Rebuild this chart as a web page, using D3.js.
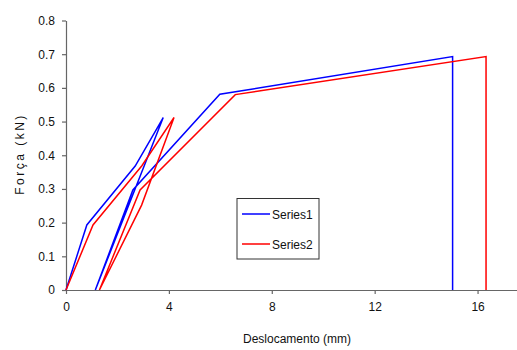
<!DOCTYPE html>
<html>
<head>
<meta charset="utf-8">
<script src="https://cdn.jsdelivr.net/npm/d3@7"></script>
<style>
  body { margin: 0; background: #fff; }
  svg { display: block; font-family: "Liberation Sans", Arial, sans-serif; }
</style>
</head>
<body>
<svg id="chart" width="517" height="350"></svg>
<script>
const width = 517,
  height = 350;

// load/unload/reload path, x in mm, y in kN
const series1X = [0, 0.81, 2.69, 3.78, 1.14, 2.6, 5.98, 15.03, 15.03];
const series1Y = [0, 0.193, 0.368, 0.512, 0, 0.297, 0.581, 0.693, 0];
const series2X = [0, 1.05, 2.95, 4.2, 2.94, 1.3, 2.88, 6.58, 16.33, 16.33];
const series2Y = [0, 0.193, 0.369, 0.512, 0.252, 0, 0.297, 0.58, 0.693, 0];
const seriesNames = ["Series1", "Series2"];
const seriesColors = ["#0000ff", "#ff0000"];
const xTicks = [0, 4, 8, 12, 16];
const yTicks = [0, 0.1, 0.2, 0.3, 0.4, 0.5, 0.6, 0.7, 0.8];

const svg = d3.select("#chart");

const x = d3.scaleLinear().domain([0, 18]).range([66, 529]);
const y = d3.scaleLinear().domain([0, 0.8]).range([290, 20.5]);

const axisColor = "#666";

const xAxis = svg
  .append("g")
  .attr("transform", `translate(0,${y(0)})`)
  .call(
    d3
      .axisBottom(x)
      .tickValues(xTicks)
      .tickSize(4)
      .tickSizeOuter(0)
      .tickPadding(8)
      .tickFormat(d3.format("d"))
  );

const yAxis = svg
  .append("g")
  .attr("transform", `translate(${x(0)},0)`)
  .call(
    d3
      .axisLeft(y)
      .tickValues(yTicks)
      .tickSize(4)
      .tickSizeOuter(0)
      .tickPadding(7)
      .tickFormat(d => (d === 0 ? "0" : d3.format(".1f")(d)))
  );

[xAxis, yAxis].forEach(g => {
  g.selectAll("path, line").attr("stroke", axisColor).attr("stroke-width", 1.2);
  g.selectAll("text")
    .attr("font-size", 12)
    .attr("fill", "#111")
    .attr("font-family", "'Liberation Sans', Arial, sans-serif");
});

const seriesData = [
  series1X.map((v, i) => [v, series1Y[i]]),
  series2X.map((v, i) => [v, series2Y[i]])
];

const line = d3
  .line()
  .x(d => x(d[0]))
  .y(d => y(d[1]));

svg
  .append("g")
  .selectAll("path")
  .data(seriesData)
  .enter()
  .append("path")
  .attr("d", line)
  .attr("fill", "none")
  .attr("stroke", (d, i) => seriesColors[i])
  .attr("stroke-width", 1.5)
  .attr("stroke-linejoin", "miter");

// axis titles
svg
  .append("text")
  .attr("x", 297)
  .attr("y", 343)
  .attr("text-anchor", "middle")
  .attr("font-size", 12)
  .attr("fill", "#111")
  .text("Deslocamento (mm)");

svg
  .append("text")
  .attr("transform", "translate(24,154) rotate(-90)")
  .attr("text-anchor", "middle")
  .attr("font-size", 12)
  .attr("letter-spacing", "2.5px")
  .attr("fill", "#111")
  .text("Força (kN)");

// legend
const legend = svg.append("g").attr("transform", "translate(237,198.5)");
legend
  .append("rect")
  .attr("width", 82)
  .attr("height", 60.5)
  .attr("fill", "#fff")
  .attr("stroke", "#333")
  .attr("stroke-width", 1);

const item = legend
  .selectAll("g.item")
  .data(seriesNames)
  .enter()
  .append("g")
  .attr("class", "item")
  .attr("transform", (d, i) => `translate(0,${15.5 + i * 30})`);

item
  .append("line")
  .attr("x1", 5)
  .attr("x2", 33)
  .attr("stroke", (d, i) => seriesColors[i])
  .attr("stroke-width", 1.5);

item
  .append("text")
  .attr("x", 35)
  .attr("y", 4.5)
  .attr("font-size", 12)
  .attr("fill", "#111")
  .text(d => d);
</script>
</body>
</html>
